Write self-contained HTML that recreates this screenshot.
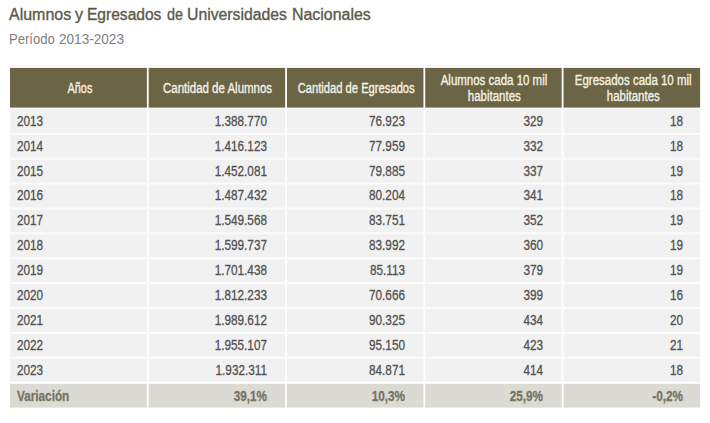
<!DOCTYPE html><html><head><meta charset="utf-8"><style>
*{margin:0;padding:0;box-sizing:border-box}
html,body{width:710px;height:423px;background:#fff;overflow:hidden;position:relative;font-family:"Liberation Sans",sans-serif}
.t{position:absolute;left:9px;top:5px;font-size:16px;transform:scaleX(1.05);color:#5c5948;white-space:nowrap;line-height:20px;-webkit-text-stroke:0.35px #5c5948;transform-origin:0 16px;}
.st{position:absolute;left:9px;top:30px;font-size:14px;transform:scaleX(0.96);transform-origin:left;color:#7e7e7e;white-space:nowrap;line-height:18px}
.topline{position:absolute;left:10px;top:65px;width:691px;height:1px;background:#f4f4f6}
.bg{position:absolute}
.h{background:#6b6545}
.r{background:#f0f0f0}
.v{background:#dcdbd3}
.s{position:absolute;white-space:nowrap;font-size:14px;line-height:16px}
.hs{color:#f4f1e4;-webkit-text-stroke:0.35px #f4f1e4}
.rs{color:#525252;-webkit-text-stroke:0.3px #525252}
.vs{color:#777462;font-weight:bold;-webkit-text-stroke:0.3px #777462}
</style></head><body>
<div class="t" style="left:9.20px;transform:scale(0.9984,1)">Alumnos</div>
<div class="t" style="left:75.00px;transform:scale(1.0125,1)">y</div>
<div class="t" style="left:87.43px;transform:scale(0.9720,1)">Egresados</div>
<div class="t" style="left:166.90px;transform:scale(0.9000,1)">de</div>
<div class="t" style="left:187.41px;transform:scale(0.9860,1)">Universidades</div>
<div class="t" style="left:292.01px;transform:scale(0.9949,1)">Nacionales</div>
<div class="st" style="left:9px;transform:scaleX(0.935)">Período</div>
<div class="st" style="left:59px;transform:scaleX(0.97)">2013-2023</div>
<div class="topline"></div>
<svg style="position:absolute;left:0;top:0" width="710" height="423" viewBox="0 0 710 423"><rect x="10.00" y="67.9" width="136.87" height="39.70" fill="#6b6545"/><rect x="10.00" y="108.7" width="136.87" height="272.90" fill="#f1f1f1"/><rect x="10.00" y="383.8" width="136.87" height="23.80" fill="#dcdbd3"/><rect x="148.67" y="67.9" width="136.48" height="39.70" fill="#6b6545"/><rect x="148.67" y="108.7" width="136.48" height="272.90" fill="#f1f1f1"/><rect x="148.67" y="383.8" width="136.48" height="23.80" fill="#dcdbd3"/><rect x="286.95" y="67.9" width="136.48" height="39.70" fill="#6b6545"/><rect x="286.95" y="108.7" width="136.48" height="272.90" fill="#f1f1f1"/><rect x="286.95" y="383.8" width="136.48" height="23.80" fill="#dcdbd3"/><rect x="425.23" y="67.9" width="136.47" height="39.70" fill="#6b6545"/><rect x="425.23" y="108.7" width="136.47" height="272.90" fill="#f1f1f1"/><rect x="425.23" y="383.8" width="136.47" height="23.80" fill="#dcdbd3"/><rect x="563.50" y="67.9" width="136.60" height="39.70" fill="#6b6545"/><rect x="563.50" y="108.7" width="136.60" height="272.90" fill="#f1f1f1"/><rect x="563.50" y="383.8" width="136.60" height="23.80" fill="#dcdbd3"/><rect x="10.0" y="132.800" width="690.1" height="2.1" fill="#fbfbfb"/><rect x="10.0" y="157.675" width="690.1" height="2.1" fill="#fbfbfb"/><rect x="10.0" y="182.550" width="690.1" height="2.1" fill="#fbfbfb"/><rect x="10.0" y="207.425" width="690.1" height="2.1" fill="#fbfbfb"/><rect x="10.0" y="232.300" width="690.1" height="2.1" fill="#fbfbfb"/><rect x="10.0" y="257.175" width="690.1" height="2.1" fill="#fbfbfb"/><rect x="10.0" y="282.050" width="690.1" height="2.1" fill="#fbfbfb"/><rect x="10.0" y="306.925" width="690.1" height="2.1" fill="#fbfbfb"/><rect x="10.0" y="331.800" width="690.1" height="2.1" fill="#fbfbfb"/><rect x="10.0" y="356.675" width="690.1" height="2.1" fill="#fbfbfb"/></svg>
<div class="s hs" style="left:11px;width:137px;top:80px;display:flex;justify-content:center"><span style="display:inline-block;flex:none;transform:scaleX(0.78)">Años</span></div>
<div class="s hs" style="left:150px;width:136px;top:80px;display:flex;justify-content:center"><span style="display:inline-block;flex:none;transform:scaleX(0.82)">Cantidad de Alumnos</span></div>
<div class="s hs" style="left:288px;width:136px;top:80px;display:flex;justify-content:center"><span style="display:inline-block;flex:none;transform:scaleX(0.8)">Cantidad de Egresados</span></div>
<div class="s hs" style="left:426px;width:136px;top:72px;display:flex;justify-content:center"><span style="display:inline-block;flex:none;transform:scaleX(0.82)">Alumnos cada 10 mil</span></div>
<div class="s hs" style="left:426px;width:136px;top:88px;display:flex;justify-content:center"><span style="display:inline-block;flex:none;transform:scaleX(0.82)">habitantes</span></div>
<div class="s hs" style="left:564px;width:138px;top:72px;display:flex;justify-content:center"><span style="display:inline-block;flex:none;transform:scaleX(0.82)">Egresados cada 10 mil</span></div>
<div class="s hs" style="left:564px;width:138px;top:88px;display:flex;justify-content:center"><span style="display:inline-block;flex:none;transform:scaleX(0.82)">habitantes</span></div>
<div class="s rs" style="left:17px;top:113px;transform:scaleX(0.84);transform-origin:left">2013</div>
<div class="s rs" style="left:67px;width:200px;text-align:right;top:113px;transform:scaleX(0.84);transform-origin:right">1.388.770</div>
<div class="s rs" style="left:205px;width:200px;text-align:right;top:113px;transform:scaleX(0.84);transform-origin:right">76.923</div>
<div class="s rs" style="left:343px;width:200px;text-align:right;top:113px;transform:scaleX(0.84);transform-origin:right">329</div>
<div class="s rs" style="left:483px;width:200px;text-align:right;top:113px;transform:scaleX(0.84);transform-origin:right">18</div>
<div class="s rs" style="left:17px;top:138px;transform:scaleX(0.84);transform-origin:left">2014</div>
<div class="s rs" style="left:67px;width:200px;text-align:right;top:138px;transform:scaleX(0.84);transform-origin:right">1.416.123</div>
<div class="s rs" style="left:205px;width:200px;text-align:right;top:138px;transform:scaleX(0.84);transform-origin:right">77.959</div>
<div class="s rs" style="left:343px;width:200px;text-align:right;top:138px;transform:scaleX(0.84);transform-origin:right">332</div>
<div class="s rs" style="left:483px;width:200px;text-align:right;top:138px;transform:scaleX(0.84);transform-origin:right">18</div>
<div class="s rs" style="left:17px;top:163px;transform:scaleX(0.84);transform-origin:left">2015</div>
<div class="s rs" style="left:67px;width:200px;text-align:right;top:163px;transform:scaleX(0.84);transform-origin:right">1.452.081</div>
<div class="s rs" style="left:205px;width:200px;text-align:right;top:163px;transform:scaleX(0.84);transform-origin:right">79.885</div>
<div class="s rs" style="left:343px;width:200px;text-align:right;top:163px;transform:scaleX(0.84);transform-origin:right">337</div>
<div class="s rs" style="left:483px;width:200px;text-align:right;top:163px;transform:scaleX(0.84);transform-origin:right">19</div>
<div class="s rs" style="left:17px;top:187px;transform:scaleX(0.84);transform-origin:left">2016</div>
<div class="s rs" style="left:67px;width:200px;text-align:right;top:187px;transform:scaleX(0.84);transform-origin:right">1.487.432</div>
<div class="s rs" style="left:205px;width:200px;text-align:right;top:187px;transform:scaleX(0.84);transform-origin:right">80.204</div>
<div class="s rs" style="left:343px;width:200px;text-align:right;top:187px;transform:scaleX(0.84);transform-origin:right">341</div>
<div class="s rs" style="left:483px;width:200px;text-align:right;top:187px;transform:scaleX(0.84);transform-origin:right">18</div>
<div class="s rs" style="left:17px;top:212px;transform:scaleX(0.84);transform-origin:left">2017</div>
<div class="s rs" style="left:67px;width:200px;text-align:right;top:212px;transform:scaleX(0.84);transform-origin:right">1.549.568</div>
<div class="s rs" style="left:205px;width:200px;text-align:right;top:212px;transform:scaleX(0.84);transform-origin:right">83.751</div>
<div class="s rs" style="left:343px;width:200px;text-align:right;top:212px;transform:scaleX(0.84);transform-origin:right">352</div>
<div class="s rs" style="left:483px;width:200px;text-align:right;top:212px;transform:scaleX(0.84);transform-origin:right">19</div>
<div class="s rs" style="left:17px;top:237px;transform:scaleX(0.84);transform-origin:left">2018</div>
<div class="s rs" style="left:67px;width:200px;text-align:right;top:237px;transform:scaleX(0.84);transform-origin:right">1.599.737</div>
<div class="s rs" style="left:205px;width:200px;text-align:right;top:237px;transform:scaleX(0.84);transform-origin:right">83.992</div>
<div class="s rs" style="left:343px;width:200px;text-align:right;top:237px;transform:scaleX(0.84);transform-origin:right">360</div>
<div class="s rs" style="left:483px;width:200px;text-align:right;top:237px;transform:scaleX(0.84);transform-origin:right">19</div>
<div class="s rs" style="left:17px;top:262px;transform:scaleX(0.84);transform-origin:left">2019</div>
<div class="s rs" style="left:67px;width:200px;text-align:right;top:262px;transform:scaleX(0.84);transform-origin:right">1.701.438</div>
<div class="s rs" style="left:205px;width:200px;text-align:right;top:262px;transform:scaleX(0.84);transform-origin:right">85.113</div>
<div class="s rs" style="left:343px;width:200px;text-align:right;top:262px;transform:scaleX(0.84);transform-origin:right">379</div>
<div class="s rs" style="left:483px;width:200px;text-align:right;top:262px;transform:scaleX(0.84);transform-origin:right">19</div>
<div class="s rs" style="left:17px;top:287px;transform:scaleX(0.84);transform-origin:left">2020</div>
<div class="s rs" style="left:67px;width:200px;text-align:right;top:287px;transform:scaleX(0.84);transform-origin:right">1.812.233</div>
<div class="s rs" style="left:205px;width:200px;text-align:right;top:287px;transform:scaleX(0.84);transform-origin:right">70.666</div>
<div class="s rs" style="left:343px;width:200px;text-align:right;top:287px;transform:scaleX(0.84);transform-origin:right">399</div>
<div class="s rs" style="left:483px;width:200px;text-align:right;top:287px;transform:scaleX(0.84);transform-origin:right">16</div>
<div class="s rs" style="left:17px;top:312px;transform:scaleX(0.84);transform-origin:left">2021</div>
<div class="s rs" style="left:67px;width:200px;text-align:right;top:312px;transform:scaleX(0.84);transform-origin:right">1.989.612</div>
<div class="s rs" style="left:205px;width:200px;text-align:right;top:312px;transform:scaleX(0.84);transform-origin:right">90.325</div>
<div class="s rs" style="left:343px;width:200px;text-align:right;top:312px;transform:scaleX(0.84);transform-origin:right">434</div>
<div class="s rs" style="left:483px;width:200px;text-align:right;top:312px;transform:scaleX(0.84);transform-origin:right">20</div>
<div class="s rs" style="left:17px;top:337px;transform:scaleX(0.84);transform-origin:left">2022</div>
<div class="s rs" style="left:67px;width:200px;text-align:right;top:337px;transform:scaleX(0.84);transform-origin:right">1.955.107</div>
<div class="s rs" style="left:205px;width:200px;text-align:right;top:337px;transform:scaleX(0.84);transform-origin:right">95.150</div>
<div class="s rs" style="left:343px;width:200px;text-align:right;top:337px;transform:scaleX(0.84);transform-origin:right">423</div>
<div class="s rs" style="left:483px;width:200px;text-align:right;top:337px;transform:scaleX(0.84);transform-origin:right">21</div>
<div class="s rs" style="left:17px;top:362px;transform:scaleX(0.84);transform-origin:left">2023</div>
<div class="s rs" style="left:67px;width:200px;text-align:right;top:362px;transform:scaleX(0.84);transform-origin:right">1.932.311</div>
<div class="s rs" style="left:205px;width:200px;text-align:right;top:362px;transform:scaleX(0.84);transform-origin:right">84.871</div>
<div class="s rs" style="left:343px;width:200px;text-align:right;top:362px;transform:scaleX(0.84);transform-origin:right">414</div>
<div class="s rs" style="left:483px;width:200px;text-align:right;top:362px;transform:scaleX(0.84);transform-origin:right">18</div>
<div class="s vs" style="left:17px;top:388px;transform:scaleX(0.84);transform-origin:left">Variación</div>
<div class="s vs" style="left:67px;width:200px;text-align:right;top:388px;transform:scaleX(0.84);transform-origin:right">39,1%</div>
<div class="s vs" style="left:205px;width:200px;text-align:right;top:388px;transform:scaleX(0.84);transform-origin:right">10,3%</div>
<div class="s vs" style="left:343px;width:200px;text-align:right;top:388px;transform:scaleX(0.84);transform-origin:right">25,9%</div>
<div class="s vs" style="left:483px;width:200px;text-align:right;top:388px;transform:scaleX(0.84);transform-origin:right">-0,2%</div>
</body></html>
